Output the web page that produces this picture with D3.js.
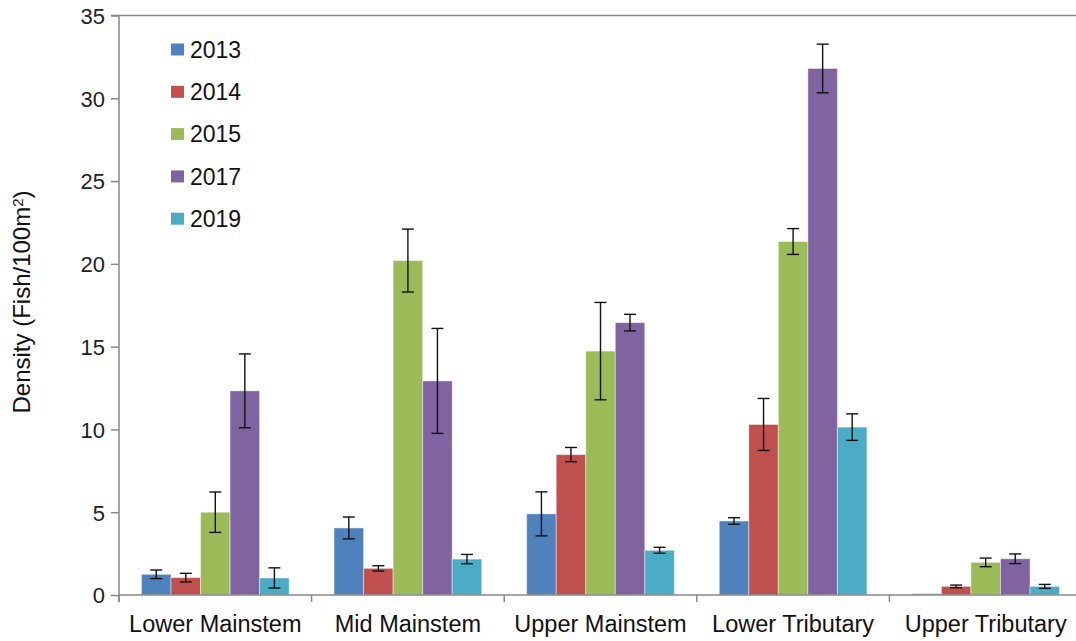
<!DOCTYPE html>
<html>
<head>
<meta charset="utf-8">
<script src="https://cdn.jsdelivr.net/npm/d3@7"></script>
<style>
  html, body { margin: 0; padding: 0; background: #fff; }
  svg { display: block; font-family: "Liberation Sans", Arial, sans-serif; }
</style>
</head>
<body>
<svg id="chart" width="1076" height="641"></svg>
<script>
// Fish density by river reach and survey year (mean ± error)
const reaches = ["Lower Mainstem", "Mid Mainstem", "Upper Mainstem", "Lower Tributary", "Upper Tributary"];
const years = ["2013", "2014", "2015", "2017", "2019"];
const yearColors = ["#4F81BD", "#C0504D", "#9BBB59", "#8064A2", "#4BACC6"];

// density per reach, one array per year (same order as reaches)
const density2013 = [1.25, 4.05, 4.9, 4.47, 0.08];
const density2014 = [1.05, 1.61, 8.48, 10.3, 0.52];
const density2015 = [5.0, 20.2, 14.73, 21.35, 1.97];
const density2017 = [12.33, 12.93, 16.45, 31.8, 2.19];
const density2019 = [1.03, 2.17, 2.7, 10.14, 0.52];

// error bar half-widths
const err2013 = [0.26, 0.66, 1.33, 0.2, 0];
const err2014 = [0.26, 0.16, 0.43, 1.57, 0.08];
const err2015 = [1.22, 1.9, 2.94, 0.78, 0.26];
const err2017 = [2.23, 3.17, 0.5, 1.47, 0.29];
const err2019 = [0.61, 0.28, 0.18, 0.8, 0.12];

const yTicks = [0, 5, 10, 15, 20, 25, 30, 35];
const yTitle = "Density (Fish/100m";

const seriesValues = [density2013, density2014, density2015, density2017, density2019];
const seriesErrors = [err2013, err2014, err2015, err2017, err2019];

const rows = [];
reaches.forEach((r, i) => {
  years.forEach((yr, j) => {
    rows.push({ reach: r, year: yr, value: seriesValues[j][i], err: seriesErrors[j][i], color: yearColors[j] });
  });
});

const svg = d3.select("#chart");
const axisColor = "#888888";

const plotLeft = 119, plotRight = 1082, plotTop = 15.5, plotBottom = 595;

const x = d3.scaleBand().domain(reaches).range([plotLeft, plotRight]).paddingInner(0).paddingOuter(0);
const xs = d3.scaleBand().domain(years).range([0, x.bandwidth()]).paddingInner(0).paddingOuter(0.76);
const y = d3.scaleLinear().domain([0, 35]).range([plotBottom, plotTop]);

// top border of the plot area
svg.append("line")
  .attr("x1", plotLeft).attr("x2", 1076)
  .attr("y1", y(35)).attr("y2", y(35))
  .attr("stroke", axisColor).attr("stroke-width", 1.5);

// bars
svg.append("g").selectAll("rect").data(rows).join("rect")
  .attr("x", d => x(d.reach) + xs(d.year))
  .attr("y", d => y(d.value))
  .attr("width", xs.bandwidth())
  .attr("height", d => y(0) - y(d.value))
  .attr("fill", d => d.color)
  .attr("stroke", "rgba(255,255,255,0.45)")
  .attr("stroke-width", 1);

// error bars
const eb = svg.append("g").attr("stroke", "#111").attr("stroke-width", 1.4);
rows.filter(d => d.err > 0).forEach(d => {
  const cx = x(d.reach) + xs(d.year) + xs.bandwidth() / 2;
  const y1 = y(d.value + d.err), y2 = y(d.value - d.err);
  eb.append("line").attr("x1", cx).attr("x2", cx).attr("y1", y1).attr("y2", y2);
  eb.append("line").attr("x1", cx - 6).attr("x2", cx + 6).attr("y1", y1).attr("y2", y1);
  eb.append("line").attr("x1", cx - 6).attr("x2", cx + 6).attr("y1", y2).attr("y2", y2);
});

// y axis
const yAxis = d3.axisLeft(y).tickValues(yTicks).tickSize(8).tickPadding(6).tickFormat(d3.format("d"));
const gy = svg.append("g").attr("transform", `translate(${plotLeft},0)`).call(yAxis);
gy.select(".domain").attr("stroke", axisColor).attr("stroke-width", 1.5)
  .attr("d", `M-8,${y(35)}H0V${plotBottom + 7}`);
gy.selectAll(".tick line").attr("stroke", axisColor).attr("stroke-width", 1.5);
gy.selectAll(".tick text").attr("fill", "#222").style("font-size", "22px")
  .attr("x", -14).attr("dy", "0.36em");

// x axis
const gx = svg.append("g").attr("transform", `translate(0,${plotBottom})`);
gx.append("line").attr("x1", plotLeft).attr("x2", 1076).attr("y1", 0).attr("y2", 0)
  .attr("stroke", axisColor).attr("stroke-width", 1.5);
const boundaries = reaches.map(r => x(r)).concat([x(reaches[reaches.length - 1]) + x.bandwidth()]);
gx.selectAll("line.tick").data(boundaries).join("line").attr("class", "tick")
  .attr("x1", d => d).attr("x2", d => d).attr("y1", 0).attr("y2", 7)
  .attr("stroke", axisColor).attr("stroke-width", 1.5);
gx.selectAll("text").data(reaches).join("text")
  .attr("x", d => x(d) + x.bandwidth() / 2)
  .attr("y", 37)
  .attr("text-anchor", "middle")
  .attr("fill", "#111")
  .style("font-size", "23.5px")
  .text(d => d);

// y axis title
const t = svg.append("text")
  .attr("transform", "translate(30,302) rotate(-90)")
  .attr("text-anchor", "middle")
  .attr("fill", "#111")
  .style("font-size", "24px");
t.append("tspan").text(yTitle);
t.append("tspan").attr("dy", "-0.45em").style("font-size", "15px").text("2");
t.append("tspan").attr("dy", "0.3em").text(")");

// legend
const lg = svg.append("g");
years.forEach((yr, j) => {
  const cy = 49.5 + j * 42.3;
  lg.append("rect").attr("x", 171).attr("y", cy - 6).attr("width", 13).attr("height", 12)
    .attr("fill", yearColors[j]);
  lg.append("text").attr("x", 190).attr("y", cy).attr("dy", "0.36em")
    .attr("fill", "#111").style("font-size", "23px").text(yr);
});
</script>
</body>
</html>
